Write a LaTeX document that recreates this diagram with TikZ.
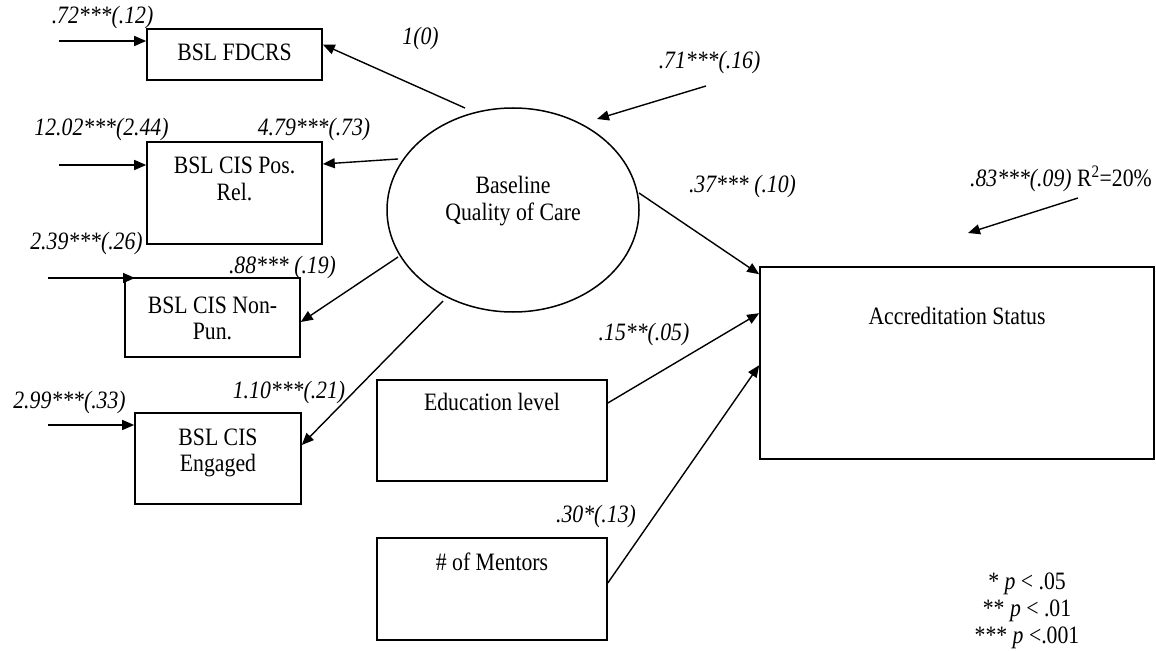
\documentclass[tikz,border=0pt]{standalone}
\usepackage{fontspec}
\setmainfont{Liberation Serif}[FakeStretch=0.87]
\usetikzlibrary{shapes.geometric,arrows.meta}

\begin{document}
\begin{tikzpicture}[x=1pt,y=-1pt,
  box/.style={draw, line width=1.6pt, rectangle, inner sep=0pt},
  oval/.style={draw, line width=1.5pt, ellipse, inner sep=0pt},
  txt/.style={inner sep=0pt, anchor=base, font=\fontsize{25}{29}\selectfont},
  lbl/.style={inner sep=0pt, anchor=base, font=\fontsize{25}{29}\selectfont\itshape},
  arr/.style={line width=1.4pt, -{Triangle[length=12pt,width=10pt]}}]

\useasboundingbox[fill=white] (0,0) rectangle (1156,652);

% indicator boxes
\node[box, minimum width=175pt, minimum height=51pt]  (fdcrs)   at (234.5,54.5) {};
\node[box, minimum width=175pt, minimum height=102pt] (posrel)  at (234.5,193)  {};
\node[box, minimum width=175pt, minimum height=79pt]  (nonpun)  at (212.5,317.5) {};
\node[box, minimum width=166pt, minimum height=91pt]  (engaged) at (218,458.5)  {};
% predictors and outcome
\node[box, minimum width=230pt, minimum height=101pt] (edu)     at (492,430.5)  {};
\node[box, minimum width=230pt, minimum height=102pt] (mentors) at (492,589)    {};
\node[box, minimum width=394pt, minimum height=192pt] (accred)  at (957,363)    {};
% latent factor
\node[oval, minimum width=252pt, minimum height=204pt] (qoc) at (513,210) {};

% box texts
\node[txt] (fdcrs-t)   at (234.5,61)  {BSL FDCRS};
\node[txt] (posrel-t1) at (234.5,174) {BSL CIS Pos.};
\node[txt] (posrel-t2) at (234.5,201) {Rel.};
\node[txt] (nonpun-t1) at (212.5,313) {BSL CIS Non-};
\node[txt] (nonpun-t2) at (212.5,339) {Pun.};
\node[txt] (engaged-t1) at (218,445)  {BSL CIS};
\node[txt] (engaged-t2) at (218,471)  {Engaged};
\node[txt] (qoc-t1)    at (513,194)   {Baseline};
\node[txt] (qoc-t2)    at (513,221)   {Quality of Care};
\node[txt] (edu-t)     at (492,410)   {Education level};
\node[txt] (mentors-t) at (492,570)   {\# of Mentors};
\node[txt] (accred-t)  at (957,324)   {Accreditation Status};

% estimates
\node[lbl] (l72)   at (102.5,24)  {.72***(.12)};
\node[lbl] (l1202) at (101.5,136) {12.02***(2.44)};
\node[lbl] (l479)  at (314,136)   {4.79***(.73)};
\node[lbl] (l239)  at (86.5,250)  {2.39***(.26)};
\node[lbl] (l88)   at (282.5,274) {.88*** (.19)};
\node[lbl] (l299)  at (69.5,408)  {2.99***(.33)};
\node[lbl] (l110)  at (289,398)   {1.10***(.21)};
\node[lbl] (l1)    at (420.5,45)  {1(0)};
\node[lbl] (l71)   at (709.5,69)  {.71***(.16)};
\node[lbl] (l37)   at (742.5,193) {.37*** (.10)};
\node[lbl] (l15)   at (644,340)   {.15**(.05)};
\node[lbl] (l30)   at (596,522)   {.30*(.13)};
\node[txt] (l83)   at (1061,187)  {\itshape .83***(.09)\upshape{} R\textsuperscript{2}=20\%};

% significance legend
\node[txt] (sig1) at (1027,589) {* \textit{p} < .05};
\node[txt] (sig2) at (1027,616) {** \textit{p} < .01};
\node[txt] (sig3) at (1027,643) {*** \textit{p} <.001};

% residual arrows into the indicators
\coordinate (e72)   at (59,41);
\coordinate (e1202) at (59,165);
\coordinate (e239)  at (48,278);
\coordinate (t239)  at (135,278);
\coordinate (e299)  at (48,425);
\draw[arr] (e72)   -- (e72 -| fdcrs.west);
\draw[arr] (e1202) -- (e1202 -| posrel.west);
\draw[arr] (e239)  -- (t239);
\draw[arr] (e299)  -- (e299 -| engaged.west);

% loadings from the latent factor
\coordinate (s1)   at (465,108);
\coordinate (s479) at (398,159);
\coordinate (s88)  at (398,257);
\coordinate (s110) at (443,301);
\coordinate (s37)  at (639,193);
\draw[arr] (s1)   -- ([yshift=10pt]fdcrs.east);
\draw[arr] (s479) -- ([yshift=29pt]posrel.east);
\draw[arr] (s88)  -- ([yshift=-4.5pt]nonpun.east);
\draw[arr] (s110) -- ([yshift=13.5pt]engaged.east);

% disturbance of the latent factor
\coordinate (d71s) at (706,86);
\coordinate (d71e) at (597,119);
\draw[arr] (d71s) -- (d71e);

% paths into accreditation status
\draw[arr] (s37) -- ([yshift=-8pt]accred.north west);
\draw[arr] ([yshift=27.5pt]edu.east) -- ([yshift=-47pt]accred.north west);
\draw[arr] ([yshift=6pt]mentors.east) -- ([yshift=-99pt]accred.north west);

% residual of the outcome
\coordinate (d83s) at (1078,198);
\coordinate (d83e) at (968,233);
\draw[arr] (d83s) -- (d83e);

\end{tikzpicture}
\end{document}
